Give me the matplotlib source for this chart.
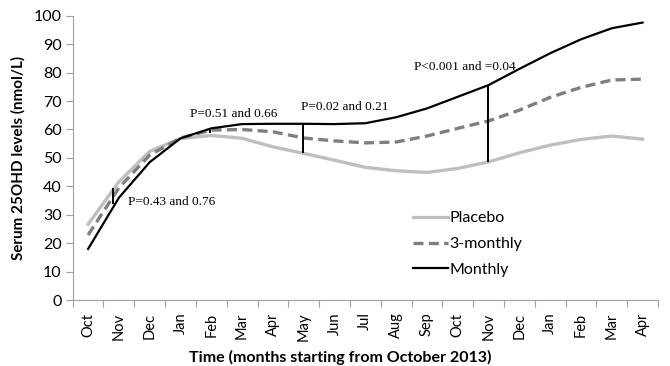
import matplotlib
matplotlib.use("Agg")
import matplotlib.pyplot as plt

# --- data ---
months = ["Oct", "Nov", "Dec", "Jan", "Feb", "Mar", "Apr", "May", "Jun", "Jul",
          "Aug", "Sep", "Oct", "Nov", "Dec", "Jan", "Feb", "Mar", "Apr"]

placebo = [26.7, 41.6, 52.3, 56.8, 57.9, 56.9, 53.9, 51.6, 49.2, 46.7,
           45.5, 44.9, 46.3, 48.6, 51.8, 54.5, 56.5, 57.7, 56.6]
three_monthly = [22.9, 39.5, 51.0, 57.0, 59.8, 60.0, 59.2, 57.0, 56.0, 55.3,
                 55.6, 57.7, 60.4, 63.0, 66.8, 71.3, 74.8, 77.4, 77.7]
monthly = [18.0, 36.0, 48.5, 56.9, 60.4, 61.9, 62.0, 62.0, 61.9, 62.2,
           64.3, 67.4, 71.5, 75.6, 81.3, 86.8, 91.7, 95.6, 97.6]

# p-value comparison bars: position, bottom, top, label, label position
pval_x = [0.82, 3.96, 6.99, 12.98]
pval_lo = [33.8, 58.6, 51.6, 48.6]
pval_hi = [39.3, 60.2, 61.9, 75.6]
pval_text = ["P=0.43 and 0.76", "P=0.51 and 0.66", "P=0.02 and 0.21", "P<0.001 and =0.04"]
pval_tx = [1.30, 3.31, 6.92, 10.58]
pval_ty = [34.5, 65.4, 67.9, 82.0]

plt.rcParams['font.family'] = ['Lato', 'DejaVu Sans']

fig = plt.figure(figsize=(6.7, 3.66), dpi=100)
ax = fig.add_axes([0.1085, 0.180, 0.8735, 0.777])

x = list(range(len(months)))
ax.plot(x, placebo, color="#BFBFBF", lw=2.4, label="Placebo")
ax.plot(x, three_monthly, color="#7F7F7F", lw=2.4, ls=(0, (3, 1.6)), label="3-monthly")
ax.plot(x, monthly, color="black", lw=1.6, label="Monthly")

for px, lo, hi in zip(pval_x, pval_lo, pval_hi):
    ax.vlines(px, lo, hi, color="black", lw=1.4)
for tx, ty, t in zip(pval_tx, pval_ty, pval_text):
    ax.text(tx, ty, t, ha="left", va="center", fontsize=9.5, family="Liberation Serif")

ax.set_xlim(-0.5, len(months) - 0.5)
ax.set_ylim(0, 100)
ax.set_yticks(range(0, 101, 10))
ax.set_xticks(x)
ax.set_xticklabels(months, rotation=90, fontsize=10.5)
ax.set_xticks([i - 0.5 for i in range(len(months) + 1)], minor=True)
ax.tick_params(axis="x", which="major", length=0, pad=9)
ax.tick_params(axis="x", which="minor", length=5, color="#A0A0A0", width=0.8)
ax.tick_params(axis="y", length=5, color="#A0A0A0", width=0.8, labelsize=11.5, pad=3)

for s in ["top", "right"]:
    ax.spines[s].set_visible(False)
for s in ["left", "bottom"]:
    ax.spines[s].set_color("#A0A0A0")
    ax.spines[s].set_linewidth(0.8)

ax.set_ylabel("Serum 25OHD levels (nmol/L)", fontsize=11, fontweight="bold", labelpad=6)
ax.set_xlabel("Time (months starting from October 2013)", fontsize=11.5, fontweight="bold",
              labelpad=3)
ax.xaxis.set_label_coords(0.457, -0.175)

ax.legend(loc="upper left", bbox_to_anchor=(0.57, 0.335), frameon=False, fontsize=11.5,
          handlelength=2.2, handletextpad=0.1, labelspacing=0.72, borderaxespad=0)

fig.savefig("out.png", dpi=100)
